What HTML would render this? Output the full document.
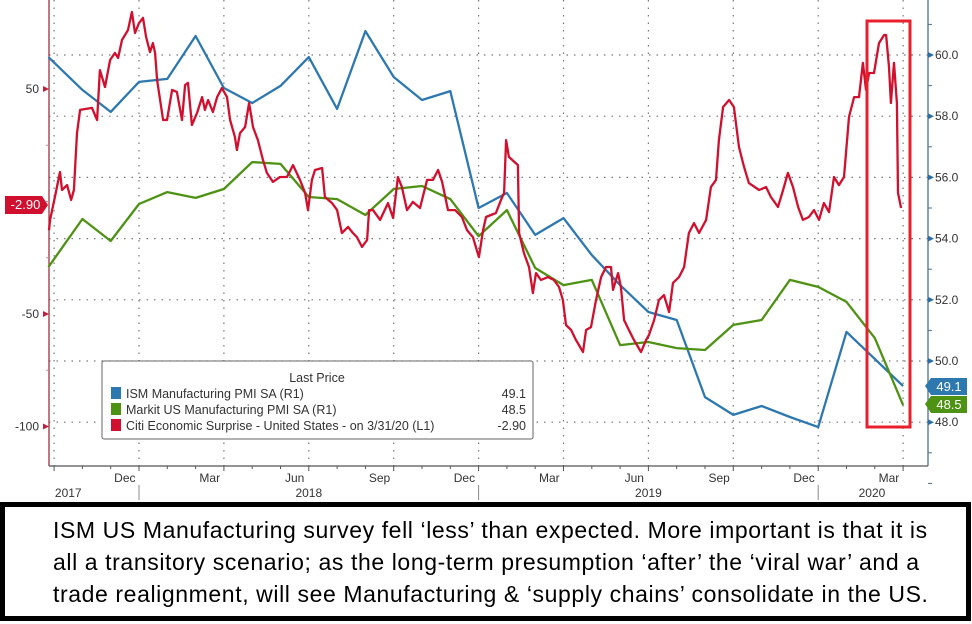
<!DOCTYPE html>
<html><head><meta charset="utf-8">
<style>
html,body{margin:0;padding:0;background:#fff;}
body{width:972px;height:624px;position:relative;overflow:hidden;font-family:"Liberation Sans",sans-serif;}
#chart{position:absolute;left:0;top:0;}
#note{position:absolute;left:0;top:502px;width:961px;height:109px;border:5px solid #000;background:#fff;}
#note div{position:absolute;left:48px;font-size:23px;letter-spacing:0.6px;color:#000;white-space:nowrap;}
</style></head>
<body>
<svg id="chart" width="972" height="500" viewBox="0 0 972 500" font-family="Liberation Sans, DejaVu Sans, sans-serif"></svg>
<div id="note">
<div style="top:10px">ISM US Manufacturing survey fell ‘less’ than expected. More important is that it is</div>
<div style="top:42px">all a transitory scenario; as the long-term presumption ‘after’ the ‘viral war’ and a</div>
<div style="top:74px">trade realignment, will see Manufacturing &amp; ‘supply chains’ consolidate in the US.</div>
</div>
<script>
// month offsets relative to Jan 2018
const ismT = [-3.2,-2,-1,0,1,2,3,4,5,6,7,8,9,10,11,12,13,14,15,16,17,18,19,20,21,22,23,24,25,26,27];
const ismV = [59.93,58.86,58.14,59.12,59.22,60.62,58.92,58.43,58.99,59.93,58.24,60.78,59.28,58.53,58.82,55.0,55.49,54.12,54.67,53.46,52.48,51.6,51.34,48.82,48.24,48.53,48.17,47.84,50.95,50.07,49.18];
const markitT = ismT;
const markitV = [53.07,54.64,53.92,55.13,55.52,55.33,55.62,56.5,56.44,55.36,55.29,54.77,55.62,55.72,55.29,54.08,54.93,53.04,52.48,52.65,50.52,50.62,50.42,50.36,51.18,51.34,52.65,52.42,51.93,50.75,48.56];
const citiT = [-3.18,-3.14,-2.97,-2.79,-2.72,-2.54,-2.4,-2.3,-2.19,-2.08,-1.66,-1.48,-1.38,-1.2,-1.02,-0.85,-0.74,-0.6,-0.39,-0.25,-0.14,0,0.14,0.25,0.39,0.49,0.57,0.64,0.85,0.99,1.17,1.34,1.52,1.63,1.73,1.87,2.05,2.23,2.33,2.44,2.61,2.76,2.93,3.11,3.22,3.39,3.46,3.57,3.75,3.89,4.03,4.2,4.38,4.52,4.73,4.98,5.23,5.44,5.69,5.87,5.97,6.11,6.22,6.47,6.57,6.82,7,7.17,7.39,7.56,7.7,7.88,8.06,8.13,8.27,8.52,8.8,8.98,9.15,9.29,9.47,9.68,9.93,10.18,10.39,10.57,10.71,10.92,11.17,11.41,11.59,11.8,12.01,12.16,12.26,12.61,12.79,12.9,12.97,13.07,13.39,13.43,13.6,13.78,13.92,14.03,14.2,14.45,14.66,14.84,14.98,15.09,15.27,15.44,15.69,15.8,15.97,16.15,16.33,16.5,16.68,16.75,16.93,17.03,17.14,17.31,17.49,17.74,17.92,18.02,18.2,18.37,18.55,18.73,18.87,19.08,19.26,19.43,19.61,19.79,20.04,20.21,20.39,20.49,20.64,20.85,21.02,21.2,21.38,21.55,21.91,22.16,22.33,22.58,22.76,22.93,23.11,23.29,23.46,23.67,23.85,24.03,24.2,24.38,24.56,24.73,24.91,25.09,25.27,25.44,25.58,25.69,25.8,25.97,26.15,26.33,26.4,26.5,26.57,26.68,26.78,26.82,26.93];
const citiV = [-12.7,-8.2,2.0,13.1,5.1,7.3,0.7,5.1,30.4,40.7,41.6,36.2,58.4,50.9,62.9,66.0,63.8,71.8,76.2,84.2,74.9,79.3,81.6,73.1,66.4,70.4,66.0,54.0,36.2,36.2,49.6,48.7,36.2,51.8,52.7,34.0,39.3,46.4,40.7,45.1,39.8,46.4,50.4,46.4,36.2,28.7,22.9,30.4,33.1,43.8,33.1,27.3,18.4,12.7,8.7,10.9,10.9,16.2,9.6,3.8,-3.8,9.6,14.0,14.9,2.0,-0.7,-3.8,-14.0,-11.3,-14.0,-15.8,-20.2,-17.1,-3.8,-3.8,-8.2,-0.7,-7.3,10.9,6.4,-3.8,-0.2,-2.9,9.6,9.6,14.0,8.7,-3.8,-3.8,-6.9,-12.7,-15.8,-24.7,-12.7,-6.9,-5.1,0.7,3.8,27.3,19.8,16.2,-14.0,-22.9,-29.1,-40.7,-31.8,-34.9,-33.6,-34.9,-38.0,-43.8,-54.9,-57.1,-61.6,-66.9,-57.1,-55.8,-43.8,-33.6,-29.1,-29.1,-39.3,-31.8,-38.0,-52.7,-57.1,-61.6,-66.9,-61.6,-59.3,-52.7,-43.8,-41.6,-49.1,-36.2,-33.6,-29.1,-14.0,-9.6,-14.0,-8.2,6.4,9.6,27.3,42.0,45.1,42.0,24.2,15.3,8.2,5.1,6.4,2.0,-2.4,5.1,12.7,6.4,-2.4,-8.2,-6.9,-3.8,-8.2,-0.7,-4.7,10.9,7.3,10.9,37.6,46.4,46.4,61.6,49.6,57.1,57.1,70.4,74.0,74.0,59.8,43.8,61.6,43.8,3.8,-2.9];
const leftTicks = [50,-50,-100];
const rightTicks = [60,58,56,54,52,50,48];
const monthLabels = ["Dec","Mar","Jun","Sep","Dec","Mar","Jun","Sep","Dec","Mar"];
const monthLabelT = [-1,2,5,8,11,14,17,20,23,26];
const yearLabels = ["2017","2018","2019","2020"];
const yearLabelT = [-2.5,6,18,25.9];

const NS="http://www.w3.org/2000/svg";
const svg=document.getElementById('chart');
const X0=49,X1=928,Y1=466;
const xS=m=>139+m*28.3;
const yL=v=>201.5-v*2.25;
const yR=v=>55+(60-v)*30.6;
function mk(tag,attrs,parent){const e=document.createElementNS(NS,tag);for(const k in attrs)e.setAttribute(k,attrs[k]);(parent||svg).appendChild(e);return e;}

// grid
const grid=mk('g',{});


rightTicks.forEach(v=>{const l=mk('line',{x1:X0,x2:X1,y1:yR(v),y2:yR(v),stroke:'#777','stroke-width':1.2,'stroke-dasharray':'1.5 6'},grid);

});
for(let q=-3;q<=27;q+=3){const l=mk('line',{x1:xS(q),x2:xS(q),y1:0,y2:Y1,stroke:'#777','stroke-width':1.2,'stroke-dasharray':'1.5 6'},grid);

}

// axes
const ax=mk('g',{});


mk('line',{x1:X0,x2:X0,y1:0,y2:Y1,stroke:'#a03040','stroke-width':1.3},ax);
mk('line',{x1:X1,x2:X1,y1:0,y2:Y1,stroke:'#4a7090','stroke-width':1.3},ax);
mk('line',{x1:X0,x2:X1,y1:Y1,y2:Y1,stroke:'#555','stroke-width':1.3},ax);
leftTicks.forEach(v=>{mk('path',{d:`M${X0-6},${yL(v)-3}L${X0},${yL(v)}L${X0-6},${yL(v)+3}z`,fill:'#c0203a'},ax);
const t=mk('text',{x:X0-10,y:yL(v)+4,'text-anchor':'end','font-size':12,fill:'#333'},ax);t.textContent=v;

});
[25,0,-25,-75].forEach(v=>mk('line',{x1:X0-3,x2:X0,y1:yL(v),y2:yL(v),stroke:'#c88','stroke-width':1},ax));
rightTicks.forEach(v=>{mk('path',{d:`M${X1},${yR(v)-3}L${X1+6},${yR(v)}L${X1},${yR(v)+3}z`,fill:'#2a6ea8'},ax);
const t=mk('text',{x:X1+7,y:yR(v)+4,'font-size':12,fill:'#333'},ax);t.textContent=v.toFixed(1);

});
[61,59,57,55,53,51,49,47,46].forEach(v=>mk('line',{x1:X1,x2:X1+4,y1:yR(v),y2:yR(v),stroke:'#4a7090','stroke-width':1},ax));
for(let m=-3;m<=27;m++){mk('line',{x1:xS(m),x2:xS(m),y1:Y1,y2:Y1+(m%3===0?5:3),stroke:'#555','stroke-width':1},ax);}
monthLabels.forEach((s,i)=>{const t=mk('text',{x:xS(monthLabelT[i]+0.5),y:482,'text-anchor':'middle','font-size':12,fill:'#333'},ax);t.textContent=s;

});
yearLabels.forEach((s,i)=>{const t=mk('text',{x:xS(yearLabelT[i]),y:497,'text-anchor':'middle','font-size':12,fill:'#333'},ax);t.textContent=s;

});
[0,12,24].forEach(m=>mk('line',{x1:xS(m),x2:xS(m),y1:485,y2:500,stroke:'#888','stroke-width':1},ax));

// series
function line(T,V,ys,color,name,w){const p=mk('path',{d:T.map((t,i)=>(i?'L':'M')+xS(t).toFixed(1)+','+ys(V[i]).toFixed(1)).join(''),fill:'none',stroke:color,'stroke-width':w,'stroke-linejoin':'round'});

}
line(ismT,ismV,yR,'#2e78b0','ism-pmi-line',2.3);
line(markitT,markitV,yR,'#4e9214','markit-pmi-line',2.3);
line(citiT,citiV,yL,'#d0102e','citi-surprise-line',2.3);

// highlight box
const hb=mk('rect',{x:867,y:21,width:43,height:406,fill:'none',stroke:'#e8202e','stroke-width':3});



// legend
const lg=mk('g',{});


mk('rect',{x:102,y:361,width:431,height:78,fill:'#fff',stroke:'#666','stroke-width':1,rx:2},lg);
const lt=mk('text',{x:317,y:382,'text-anchor':'middle','font-size':12.5,fill:'#333'},lg);lt.textContent='Last Price';
const legNames=['ISM Manufacturing PMI SA  (R1)','Markit US Manufacturing PMI SA  (R1)','Citi Economic Surprise - United States -  on 3/31/20  (L1)'];
const legVals=['49.1','48.5','-2.90'];
const legCols=['#2e78b0','#4e9214','#d0102e'];
legNames.forEach((n,i)=>{const y=393+i*16;
const s=mk('rect',{x:111,y:y-6,width:10,height:12,fill:legCols[i]},lg);


const t=mk('text',{x:126,y:y+5,'font-size':12.5,fill:'#333'},lg);t.textContent=n;


const v=mk('text',{x:526,y:y+5,'text-anchor':'end','font-size':12.5,fill:'#333'},lg);v.textContent=legVals[i];

});

// value tags
function tag(x,y,w,color,txt,left,name){const g=mk('g',{});


if(left){mk('path',{d:`M${x},${y}h${w}l6,9l-6,9h-${w}z`,fill:color},g);}
else{mk('path',{d:`M${x},${y+8}l6,-8h${w}v17h-${w}z`,fill:color},g);}
const t=mk('text',{x:left?x+w/2+2:x+6+w/2,y:y+13,'text-anchor':'middle','font-size':13,fill:'#fff'},g);t.textContent=txt;}
tag(925,378,36,'#2e78b0','49.1',false,'ism-last-value-tag');
tag(925,396,36,'#4e9214','48.5',false,'markit-last-value-tag');
tag(5,196,37,'#d0102e','-2.90',true,'citi-last-value-tag');
</script>
</body></html>
